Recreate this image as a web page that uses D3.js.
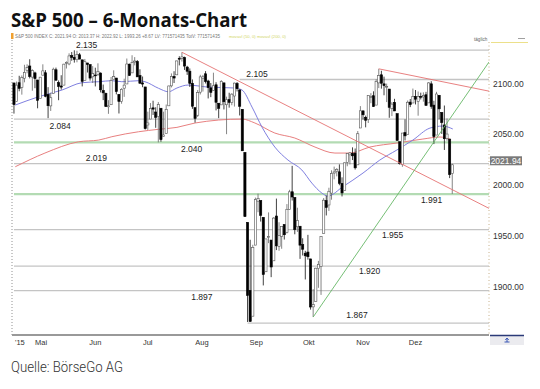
<!DOCTYPE html>
<html>
<head>
<meta charset="utf-8">
<script src="https://cdnjs.cloudflare.com/ajax/libs/d3/7.8.5/d3.min.js"></script>
<style>
  body { margin: 0; background: #fff; }
  svg { display: block; }
</style>
</head>
<body>
<svg width="540" height="389"></svg>
<script>
// daily candles, S&P 500, 17.04.2015 - 14.12.2015
const dates = [
  "2015-04-17","2015-04-20","2015-04-21","2015-04-22","2015-04-23","2015-04-24","2015-04-27","2015-04-28","2015-04-29","2015-04-30",
  "2015-05-01","2015-05-04","2015-05-05","2015-05-06","2015-05-07","2015-05-08","2015-05-11","2015-05-12","2015-05-13","2015-05-14",
  "2015-05-15","2015-05-18","2015-05-19","2015-05-20","2015-05-21","2015-05-22","2015-05-26","2015-05-27","2015-05-28","2015-05-29",
  "2015-06-01","2015-06-02","2015-06-03","2015-06-04","2015-06-05","2015-06-08","2015-06-09","2015-06-10","2015-06-11","2015-06-12",
  "2015-06-15","2015-06-16","2015-06-17","2015-06-18","2015-06-19","2015-06-22","2015-06-23","2015-06-24","2015-06-25","2015-06-26",
  "2015-06-29","2015-06-30",
  "2015-07-01","2015-07-02","2015-07-06","2015-07-07","2015-07-08","2015-07-09","2015-07-10","2015-07-13","2015-07-14","2015-07-15",
  "2015-07-16","2015-07-17","2015-07-20","2015-07-21","2015-07-22","2015-07-23","2015-07-24","2015-07-27","2015-07-28","2015-07-29",
  "2015-07-30","2015-07-31",
  "2015-08-03","2015-08-04","2015-08-05","2015-08-06","2015-08-07","2015-08-10","2015-08-11","2015-08-12","2015-08-13","2015-08-14",
  "2015-08-17","2015-08-18","2015-08-19","2015-08-20","2015-08-21","2015-08-24","2015-08-25","2015-08-26","2015-08-27","2015-08-28",
  "2015-08-31",
  "2015-09-01","2015-09-02","2015-09-03","2015-09-04","2015-09-08","2015-09-09","2015-09-10","2015-09-11","2015-09-14","2015-09-15",
  "2015-09-16","2015-09-17","2015-09-18","2015-09-21","2015-09-22","2015-09-23","2015-09-24","2015-09-25","2015-09-28","2015-09-29",
  "2015-09-30",
  "2015-10-01","2015-10-02","2015-10-05","2015-10-06","2015-10-07","2015-10-08","2015-10-09","2015-10-12","2015-10-13","2015-10-14",
  "2015-10-15","2015-10-16","2015-10-19","2015-10-20","2015-10-21","2015-10-22","2015-10-23","2015-10-26","2015-10-27","2015-10-28",
  "2015-10-29","2015-10-30",
  "2015-11-02","2015-11-03","2015-11-04","2015-11-05","2015-11-06","2015-11-09","2015-11-10","2015-11-11","2015-11-12","2015-11-13",
  "2015-11-16","2015-11-17","2015-11-18","2015-11-19","2015-11-20","2015-11-23","2015-11-24","2015-11-25","2015-11-27","2015-11-30",
  "2015-12-01","2015-12-02","2015-12-03","2015-12-04","2015-12-07","2015-12-08","2015-12-09","2015-12-10","2015-12-11","2015-12-14"
];

const open = [
  2102.58,2084.11,2102.82,2098.27,2107.21,2114.76,2119.29,2108.35,2112.49,2105.52,
  2087.38,2110.23,2112.63,2091.26,2079.96,2092.13,2115.56,2102.87,2099.62,2100.43,2122.07,2121.30,2129.45,2127.79,2125.55,2130.36,2125.34,2105.13,2122.27,2120.66,
  2108.64,2110.41,2110.64,2112.35,2095.09,2092.34,2079.07,2081.12,2106.24,2107.43,2091.34,2084.26,2097.40,2101.58,2121.06,2112.50,2123.16,2123.65,2109.96,2102.62,2098.63,2061.19,
  2067.00,2078.03,2073.95,2069.52,2077.66,2049.73,2052.74,2080.03,2099.72,2109.01,2110.55,2126.80,2126.85,2127.55,2118.21,2114.16,2102.24,2078.19,2070.75,2093.49,2106.78,2111.60,
  2104.49,2097.68,2095.27,2100.75,2082.61,2080.98,2102.66,2081.10,2086.19,2083.15,2089.70,2101.99,2095.69,2076.61,2034.08,1965.15,1898.08,1872.75,1942.77,1986.06,1986.73,
  1970.09,1916.52,1950.79,1947.76,1927.30,1971.45,1941.59,1951.45,1963.06,1955.10,1978.02,1995.33,1989.66,1960.84,1961.39,1943.24,1934.81,1935.93,1929.18,1881.90,1887.14,
  1919.65,1921.77,1954.33,1986.63,1982.34,1994.01,2013.73,2015.65,2015.00,2003.66,1996.47,2024.37,2031.73,2033.13,2033.47,2021.88,2058.19,2075.08,2068.75,2066.48,2088.35,2090.00,
  2080.76,2102.63,2110.60,2101.68,2098.60,2096.56,2077.19,2083.41,2072.29,2044.64,2022.08,2053.67,2051.99,2083.70,2082.82,2089.41,2084.42,2089.30,2088.82,2090.95,
  2082.93,2101.71,2080.71,2051.24,2090.42,2073.39,2061.17,2047.93,2047.27,2013.37
];

const high = [
  2102.58,2103.94,2109.64,2109.98,2120.49,2120.92,2125.92,2116.04,2113.65,2105.52,
  2108.41,2120.95,2115.24,2098.42,2092.90,2117.66,2117.69,2105.06,2110.19,2121.45,2123.89,2131.78,2133.02,2134.72,2134.28,2132.15,2125.34,2126.22,2122.27,2120.66,
  2119.15,2117.59,2121.92,2112.89,2100.99,2093.01,2085.62,2108.50,2115.02,2107.43,2091.34,2097.40,2106.79,2126.65,2121.64,2129.87,2128.03,2125.10,2116.04,2108.92,2098.63,2074.28,
  2082.78,2085.06,2078.61,2083.74,2077.66,2074.28,2081.31,2099.88,2111.98,2114.14,2124.42,2128.91,2132.82,2128.49,2119.44,2116.87,2106.01,2078.19,2095.60,2110.60,2110.48,2114.24,
  2105.70,2102.51,2112.66,2103.32,2082.61,2105.35,2102.66,2089.06,2092.93,2092.45,2102.87,2103.47,2096.17,2076.61,2034.08,1965.15,1948.04,1943.09,1989.60,1993.48,1986.73,
  1970.09,1948.91,1975.01,1947.76,1970.42,1988.63,1965.29,1961.05,1963.06,1983.19,1997.26,2020.86,1989.66,1979.64,1961.39,1949.52,1937.17,1952.89,1929.18,1899.48,1920.53,
  1927.21,1951.36,1989.17,1991.62,1999.31,2016.50,2020.13,2018.66,2022.34,2009.56,2024.15,2033.54,2034.45,2039.12,2037.97,2055.20,2079.74,2075.14,2070.37,2090.35,2092.52,2094.32,
  2106.20,2116.48,2114.59,2108.78,2101.91,2096.56,2083.67,2086.94,2072.29,2044.64,2053.22,2066.69,2085.31,2086.74,2097.06,2095.61,2094.12,2093.00,2093.29,2093.81,
  2103.37,2104.27,2085.00,2093.84,2090.42,2073.85,2080.33,2067.65,2047.27,2022.92
];

const low = [
  2072.37,2084.11,2094.38,2091.05,2103.19,2112.09,2107.04,2094.89,2097.41,2077.59,
  2087.38,2110.23,2088.46,2067.93,2074.99,2092.13,2104.58,2085.57,2096.04,2100.43,2116.81,2120.01,2124.50,2122.59,2122.95,2126.06,2099.18,2105.13,2112.86,2104.89,
  2102.54,2099.14,2109.61,2093.23,2085.67,2079.11,2072.14,2081.12,2106.24,2091.33,2072.49,2082.10,2088.86,2101.58,2109.45,2112.50,2119.89,2108.58,2101.78,2098.38,2056.64,2056.32,
  2067.00,2071.02,2058.40,2044.02,2044.66,2049.73,2052.74,2080.03,2098.18,2102.49,2110.55,2119.88,2123.66,2115.40,2110.49,2098.63,2077.09,2063.52,2069.09,2091.24,2094.08,2102.07,
  2087.31,2088.60,2095.27,2075.53,2067.91,2080.98,2076.49,2052.09,2078.26,2080.61,2079.30,2094.14,2070.53,2035.73,1970.89,1867.01,1867.08,1872.75,1942.77,1975.19,1965.98,
  1903.07,1916.52,1944.72,1911.21,1927.30,1937.88,1937.19,1939.19,1948.27,1954.30,1977.93,1986.73,1953.45,1955.80,1929.22,1932.57,1908.92,1928.45,1879.21,1871.91,1887.14,
  1900.70,1893.70,1954.33,1971.99,1976.44,1987.53,2007.61,2010.55,2001.78,1990.73,1996.47,2020.46,2022.31,2026.61,2017.22,2021.88,2058.19,2066.53,2058.84,2063.11,2082.63,2079.05,
  2080.76,2097.51,2096.98,2090.41,2083.74,2068.24,2069.91,2074.85,2045.66,2022.02,2019.94,2045.90,2051.99,2078.76,2082.82,2081.39,2070.29,2086.30,2084.13,2080.41,
  2082.93,2077.11,2042.35,2051.24,2066.78,2052.32,2036.53,2045.67,2008.80,1993.26
];

const close = [
  2081.18,2100.40,2097.29,2107.96,2112.93,2117.69,2108.92,2114.76,2106.85,2085.51,
  2108.29,2114.49,2089.46,2080.15,2088.00,2116.10,2105.33,2099.12,2098.48,2121.10,2122.73,2129.20,2127.83,2125.85,2130.82,2126.06,2104.20,2123.48,2120.79,2107.39,
  2111.73,2109.60,2114.07,2095.84,2092.83,2079.28,2080.15,2105.20,2108.86,2094.11,2084.43,2096.29,2100.44,2121.24,2109.99,2122.85,2124.20,2108.58,2102.31,2101.49,2057.64,2063.11,
  2077.42,2076.78,2068.76,2081.34,2046.68,2051.31,2076.62,2099.60,2108.95,2107.40,2124.29,2126.64,2128.28,2119.21,2114.15,2102.15,2079.65,2067.64,2093.25,2108.57,2108.63,2103.84,
  2098.04,2093.32,2099.84,2083.56,2077.57,2104.18,2084.07,2086.05,2083.39,2091.54,2102.44,2096.92,2079.61,2035.73,1970.89,1893.21,1867.61,1940.51,1987.66,1988.87,1972.18,
  1913.85,1948.86,1951.13,1921.22,1969.41,1942.04,1952.29,1961.05,1953.03,1978.09,1995.31,1990.20,1958.03,1966.97,1942.74,1938.76,1932.24,1931.34,1881.77,1884.09,1920.03,
  1923.82,1951.36,1987.05,1979.92,1995.83,2013.43,2014.89,2017.46,2003.69,1994.24,2023.86,2033.11,2033.66,2030.77,2018.94,2052.51,2075.15,2071.18,2065.89,2090.35,2089.41,2079.36,
  2104.05,2109.79,2102.31,2099.93,2099.20,2078.58,2081.72,2075.00,2045.97,2023.04,2053.19,2050.44,2083.58,2081.24,2089.17,2086.59,2089.14,2088.87,2090.11,2080.41,
  2102.63,2079.51,2049.62,2091.69,2077.07,2063.59,2047.62,2052.23,2012.37,2021.94
];

// moving averages (x = trading day index)
const ma50Idx = [0.5, 9.4, 18.3, 25.9, 32.3, 37.3, 41.1, 47.5, 49.9, 55.1, 58.9, 62.1, 66.3, 73.9, 84.2, 86.9, 90.7, 94.5, 99.4, 104.4, 109.7, 113.5, 117.3, 119.6, 125.3, 133, 139.4, 145.9, 152, 158.5, 163.4, 167.2];
const ma50 = [2080.8, 2089, 2095.6, 2102.8, 2103.8, 2104.8, 2103.8, 2104.8, 2103.8, 2097.3, 2093.9, 2097.6, 2100.5, 2098.5, 2097.6, 2095.6, 2078.8, 2059.1, 2039.4, 2026.6, 2016.8, 2003.9, 1994.1, 1991.1, 2000.3, 2013.8, 2026.6, 2036.5, 2046.3, 2058.1, 2060.1, 2057.2];
const ma200Idx = [0.5, 11.8, 24.6, 32.3, 37.3, 47.5, 55.1, 62.1, 69, 86.9, 91.8, 99.4, 107, 114.7, 122.3, 128, 135.6, 145.9, 155.8, 162.3, 166.1];
const ma200 = [2020, 2033.5, 2044.6, 2046.3, 2049.6, 2054.5, 2056.9, 2058.8, 2063.1, 2067, 2063.1, 2053.2, 2048.3, 2039.4, 2033.5, 2033.5, 2039.4, 2043.4, 2047.3, 2049.3, 2047.3];

// horizontal support / resistance levels
const levelValues = [2135, 2106, 2067, 2044, 2023, 1993, 1958, 1922, 1898, 1866];
const levelFrom   = ["2015-05-22", "2015-08-19", null, null, null, null, null, null, null, "2015-08-24"];
const levelKind   = ["grey", "grey", "grey", "green", "grey", "green", "grey", "grey", "grey", "grey"];
const levelLabels = ["2.135", "2.105", "2.084", "2.040", "2.019", "1.991", "1.955", "1.920", "1.897", "1.867"];
const labelIdx    = [27.7, 92.6, 17.6, 67.7, 31.4, 159.1, 144.3, 135.5, 71.6, 130.7];
const labelValue  = [2137, 2108.9, 2057.2, 2035, 2026.1, 1984.2, 1949.8, 1914.3, 1888.2, 1871.4];

// trend lines: [index, value] start and end
const trendLines = [
  { color: "#e57373", from: [64, 2132.82], to: [181, 1979] },
  { color: "#e57373", from: [139, 2116.48], to: [181, 2094.5] },
  { color: "#66b866", from: [114, 1871.91], to: [181, 2123.2] }
];

const yTicks = [1900, 1950, 2000, 2050, 2100];
const monthLabels = ["Mai", "Jun", "Jul", "Aug", "Sep", "Okt", "Nov", "Dez"];
const monthStarts = ["2015-05-01", "2015-06-01", "2015-07-01", "2015-08-01", "2015-09-01", "2015-10-01", "2015-11-01", "2015-12-01"];
const lastClose = 2021.94;
const headerInfo = "S&P 500 INDEX C: 2021.94 O: 2013.37 H: 2022.92 L: 1993.26 +8.67 LV: 771571435 TotV: 771571435";
const headerMa = "movavl (50, 0) movavl (200, 0)";

const svg = d3.select("svg");
const plot = { left: 12, right: 489, top: 40, bottom: 335 };

const x = d3.scaleLinear().domain([-0.75, 181]).range([plot.left, plot.right]);
const y = d3.scaleLinear().domain([1854.2, 2144.9]).range([plot.bottom, plot.top]);
// month labels follow calendar time
const xCal = d3.scaleTime()
  .domain([new Date(2015, 3, 14, 10), new Date(2016, 0, 12)])
  .range([plot.left, plot.right]);
const parse = d3.timeParse("%Y-%m-%d");

// shrink font so the natural text width matches the wanted width
function fitText(sel, width) {
  const fs = +sel.attr("font-size");
  const w = sel.node().getComputedTextLength();
  sel.attr("font-size", fs * width / w);
  return sel;
}

svg.append("defs").append("clipPath").attr("id", "clip")
  .append("rect")
  .attr("x", plot.left).attr("y", plot.top - 20)
  .attr("width", plot.right - plot.left).attr("height", plot.bottom - plot.top + 20);

// title
svg.append("text")
  .attr("x", 11).attr("y", 26.5)
  .attr("font-family", "'Open Sans', sans-serif")
  .attr("font-weight", 700).attr("font-size", 19)
  .attr("textLength", 236).attr("lengthAdjust", "spacingAndGlyphs")
  .attr("fill", "#111")
  .text("S&P 500 – 6-Monats-Chart");

// header info line
svg.append("rect").attr("x", 11).attr("y", 33).attr("width", 2.5).attr("height", 6).attr("fill", "#f0a030");
const info = svg.append("text").attr("x", 15).attr("y", 37.5)
  .attr("font-family", "Arial, 'Liberation Sans', sans-serif").attr("font-size", 5.2)
  .attr("fill", "#777").text(headerInfo);
fitText(info, 205);
const maInfo = svg.append("text").attr("x", 229).attr("y", 37.5)
  .attr("font-family", "Arial, 'Liberation Sans', sans-serif").attr("font-size", 5.2)
  .attr("fill", "#d2d66a").text(headerMa);
fitText(maInfo, 57);
svg.append("text").attr("x", 474).attr("y", 40.5)
  .attr("font-family", "Arial, 'Liberation Sans', sans-serif").attr("font-size", 4.6)
  .attr("fill", "#666").text("täglich");
svg.append("line").attr("x1", 491).attr("x2", 528).attr("y1", 42.5).attr("y2", 42.5)
  .attr("stroke", "#ece08a").attr("stroke-width", 1);
svg.append("line").attr("x1", 518).attr("x2", 525).attr("y1", 38.5).attr("y2", 38.5)
  .attr("stroke", "#888").attr("stroke-width", 0.8);

// axes frame
svg.append("line")
  .attr("x1", plot.left).attr("x2", plot.left).attr("y1", plot.top).attr("y2", plot.bottom)
  .attr("stroke", "#777").attr("stroke-width", 0.8).attr("stroke-dasharray", "1,2");
svg.append("line")
  .attr("x1", plot.right).attr("x2", plot.right).attr("y1", plot.top + 2).attr("y2", plot.bottom)
  .attr("stroke", "#b99c6c").attr("stroke-width", 0.8).attr("stroke-dasharray", "1,2.5");

const g = svg.append("g").attr("clip-path", "url(#clip)");

// horizontal levels
const levels = levelValues.map((v, i) => ({
  v, kind: levelKind[i],
  x0: levelFrom[i] ? dates.indexOf(levelFrom[i]) : 0
}));
g.selectAll("line.level").data(levels).join("line")
  .attr("class", "level")
  .attr("x1", d => x(d.x0)).attr("x2", plot.right)
  .attr("y1", d => y(d.v)).attr("y2", d => y(d.v))
  .attr("stroke", d => d.kind === "green" ? "#b3dbb3" : "#c4c4c4")
  .attr("stroke-width", d => d.kind === "green" ? 2.2 : 1.3);

// moving averages
const line = d3.line().x(d => x(d[0])).y(d => y(d[1])).curve(d3.curveMonotoneX);
g.append("path")
  .datum(ma200Idx.map((k, i) => [k, ma200[i]]))
  .attr("d", line).attr("fill", "none").attr("stroke", "#e88080").attr("stroke-width", 1);
g.append("path")
  .datum(ma50Idx.map((k, i) => [k, ma50[i]]))
  .attr("d", line).attr("fill", "none").attr("stroke", "#8080e0").attr("stroke-width", 1);

// candles
const candles = dates.map((d, i) => ({ i, o: open[i], h: high[i], l: low[i], c: close[i] }));
const bw = 2.2;
g.selectAll("line.wick").data(candles).join("line")
  .attr("class", "wick")
  .attr("x1", d => x(d.i)).attr("x2", d => x(d.i))
  .attr("y1", d => y(d.h)).attr("y2", d => y(d.l))
  .attr("stroke", d => d.c >= d.o ? "#666" : "#111").attr("stroke-width", 0.8);
g.selectAll("rect.body").data(candles).join("rect")
  .attr("class", "body")
  .attr("x", d => x(d.i) - bw / 2).attr("width", bw)
  .attr("y", d => y(Math.max(d.o, d.c)))
  .attr("height", d => Math.max(0.8, Math.abs(y(d.o) - y(d.c))))
  .attr("fill", d => d.c >= d.o ? "#fff" : "#000")
  .attr("stroke", d => d.c >= d.o ? "#555" : "#000")
  .attr("stroke-width", 0.6);

// trend lines
g.selectAll("line.trend").data(trendLines).join("line")
  .attr("class", "trend")
  .attr("x1", d => x(d.from[0])).attr("y1", d => y(d.from[1]))
  .attr("x2", d => x(d.to[0])).attr("y2", d => y(d.to[1]))
  .attr("stroke", d => d.color).attr("stroke-width", 0.9);

// level labels
svg.selectAll("text.lvl").data(levelLabels).join("text")
  .attr("class", "lvl")
  .attr("x", (d, i) => x(labelIdx[i])).attr("y", (d, i) => y(labelValue[i]))
  .attr("text-anchor", "middle")
  .attr("font-family", "Arial, 'Liberation Sans', sans-serif").attr("font-size", 8.5)
  .attr("fill", "#222")
  .text(d => d);

// y axis labels (baseline sits on the value)
svg.selectAll("text.ytick").data(yTicks).join("text")
  .attr("class", "ytick")
  .attr("x", 493).attr("y", d => y(d) + 1)
  .attr("font-family", "Arial, 'Liberation Sans', sans-serif").attr("font-size", 8.5)
  .attr("fill", "#333")
  .text(d => d3.format(".2f")(d));

// last price box
svg.append("rect")
  .attr("x", 490).attr("y", y(lastClose) - 8.5).attr("width", 32).attr("height", 9)
  .attr("fill", "#7a7a7a");
svg.append("text")
  .attr("x", 506).attr("y", y(lastClose) - 1)
  .attr("text-anchor", "middle")
  .attr("font-family", "Arial, 'Liberation Sans', sans-serif").attr("font-size", 8.5)
  .attr("fill", "#fff")
  .text(d3.format(".2f")(lastClose));

// x axis
svg.append("line")
  .attr("x1", plot.left).attr("x2", plot.right).attr("y1", plot.bottom).attr("y2", plot.bottom)
  .attr("stroke", "#999").attr("stroke-width", 2);
svg.selectAll("text.month").data(monthLabels).join("text")
  .attr("class", "month")
  .attr("x", (d, i) => xCal(parse(monthStarts[i]))).attr("y", 345)
  .attr("text-anchor", "middle")
  .attr("font-family", "Arial, 'Liberation Sans', sans-serif").attr("font-size", 7.5)
  .attr("fill", "#333")
  .text(d => d);
svg.append("text")
  .attr("x", 15).attr("y", 345)
  .attr("font-family", "Arial, 'Liberation Sans', sans-serif").attr("font-size", 7.5)
  .attr("fill", "#333").text("'15");

// small box bottom right
svg.append("rect").attr("x", 490).attr("y", 335).attr("width", 34).attr("height", 10).attr("fill", "#ebebef");
svg.append("line").attr("x1", 490).attr("x2", 524).attr("y1", 335.5).attr("y2", 335.5)
  .attr("stroke", "#2b3a78").attr("stroke-width", 1.4);
svg.append("path")
  .attr("d", "M504.5,342 h5 M507,342 v-3.5 M505.3,340 l1.7,-2 l1.7,2")
  .attr("fill", "none").attr("stroke", "#2a4ab0").attr("stroke-width", 0.9);

// source
svg.append("text")
  .attr("x", 11).attr("y", 372)
  .attr("font-family", "Roboto, sans-serif").attr("font-weight", 300).attr("font-size", 14)
  .attr("textLength", 112).attr("lengthAdjust", "spacingAndGlyphs")
  .attr("fill", "#333")
  .text("Quelle: BörseGo AG");
</script>
</body>
</html>
